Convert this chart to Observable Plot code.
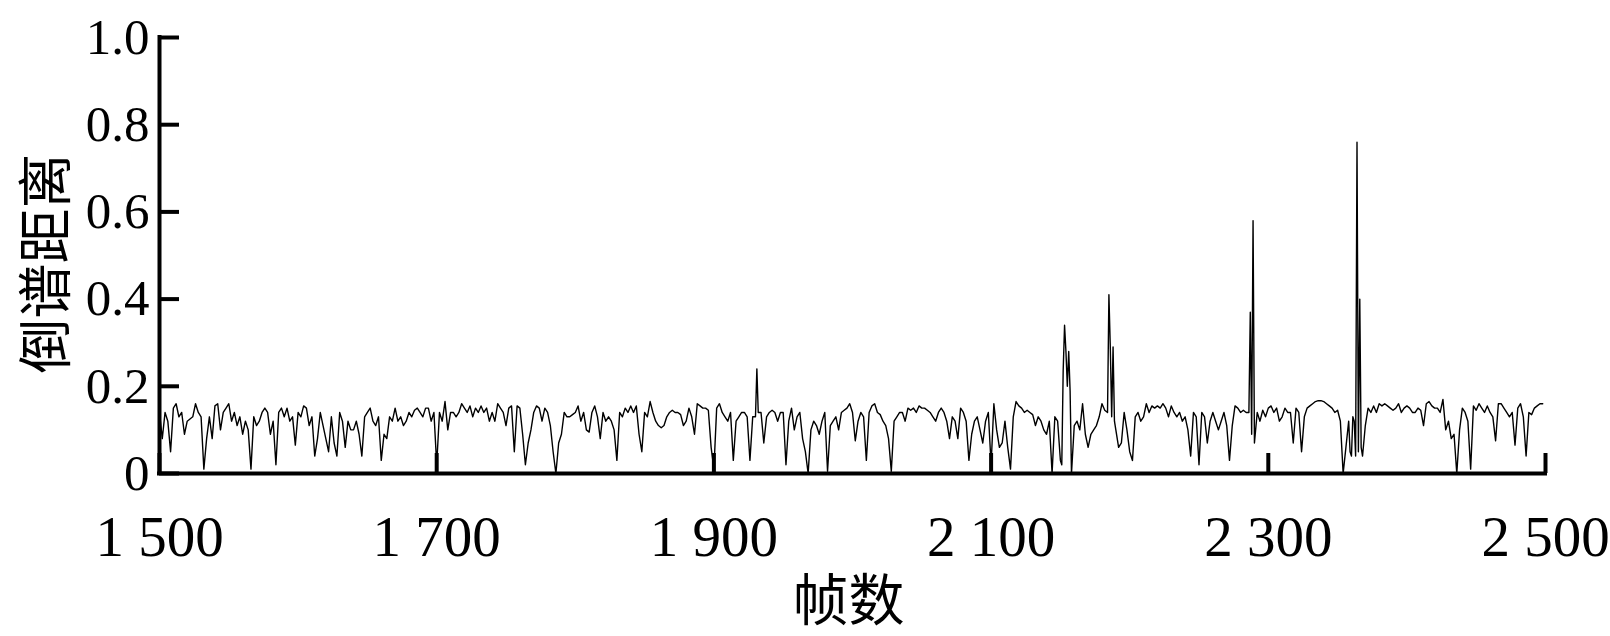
<!DOCTYPE html>
<html>
<head>
<meta charset="utf-8">
<script src="https://cdn.jsdelivr.net/npm/d3@7"></script>
<script src="https://cdn.jsdelivr.net/npm/@observablehq/plot@0.6"></script>
<style>
  html, body { margin: 0; padding: 0; background: #fff; }
  #chart svg { display: block; }
</style>
</head>
<body>
<div id="chart"></div>
<script>
// ---- data (cepstral distance per frame) ----
const xTicks = [1500, 1700, 1900, 2100, 2300, 2500];
const xTickLabels = ["1 500", "1 700", "1 900", "2 100", "2 300", "2 500"];
const yTicks = [0, 0.2, 0.4, 0.6, 0.8, 1.0];
const yTickLabels = ["0", "0.2", "0.4", "0.6", "0.8", "1.0"];
const xTitle = "帧数";
const yTitle = "倒谱距离";

const frameStep = 2;
const segStarts = [1500, 1600, 1700, 1800, 1900, 2000, 2100, 2200, 2300, 2400];

const seg1500 = [0.14,0.08,0.14,0.12,0.05,0.15,0.16,0.13,0.14,0.09,
  0.12,0.125,0.13,0.16,0.14,0.13,0.01,0.08,0.13,0.08,
  0.155,0.16,0.10,0.14,0.15,0.16,0.12,0.14,0.11,0.13,
  0.09,0.12,0.10,0.01,0.13,0.11,0.12,0.14,0.15,0.14,
  0.09,0.12,0.02,0.14,0.15,0.13,0.15,0.12,0.13,0.065];
const seg1600 = [0.14,0.13,0.155,0.15,0.11,0.13,0.04,0.08,0.14,0.11,
  0.08,0.05,0.13,0.07,0.04,0.14,0.12,0.06,0.12,0.10,
  0.10,0.12,0.09,0.04,0.13,0.14,0.15,0.12,0.11,0.13,
  0.03,0.09,0.08,0.13,0.12,0.15,0.12,0.13,0.11,0.12,
  0.14,0.13,0.145,0.15,0.14,0.13,0.15,0.15,0.12,0.14];
const seg1700 = [0.02,0.14,0.12,0.165,0.10,0.14,0.14,0.13,0.14,0.16,
  0.15,0.14,0.155,0.13,0.15,0.14,0.155,0.14,0.15,0.12,
  0.14,0.12,0.16,0.15,0.14,0.11,0.15,0.155,0.05,0.155,
  0.15,0.09,0.02,0.07,0.10,0.14,0.155,0.15,0.12,0.15,
  0.14,0.11,0.05,0.0,0.07,0.09,0.14,0.13,0.13,0.135];
const seg1800 = [0.14,0.155,0.12,0.14,0.10,0.095,0.14,0.155,0.13,0.08,
  0.14,0.12,0.13,0.12,0.10,0.03,0.14,0.13,0.15,0.14,
  0.155,0.14,0.155,0.09,0.05,0.14,0.13,0.165,0.14,0.12,
  0.11,0.105,0.11,0.13,0.14,0.145,0.14,0.14,0.135,0.11,
  0.12,0.15,0.13,0.09,0.16,0.155,0.15,0.15,0.145,0.06];
const seg1900 = [0.01,0.15,0.16,0.14,0.13,0.12,0.14,0.03,0.12,0.13,
  0.14,0.14,0.13,0.03,0.13,0.13,0.14,0.14,0.07,0.13,
  0.14,0.145,0.14,0.12,0.14,0.14,0.02,0.12,0.15,0.10,
  0.13,0.14,0.08,0.05,0.0,0.10,0.12,0.11,0.09,0.12,
  0.14,0.005,0.11,0.12,0.13,0.10,0.14,0.145,0.15,0.16];
const seg2000 = [0.14,0.075,0.12,0.14,0.13,0.03,0.14,0.155,0.16,0.14,
  0.135,0.12,0.11,0.08,0.005,0.12,0.13,0.14,0.14,0.12,
  0.15,0.145,0.15,0.14,0.155,0.15,0.15,0.145,0.14,0.13,
  0.12,0.14,0.15,0.14,0.12,0.08,0.13,0.12,0.08,0.15,
  0.14,0.12,0.03,0.09,0.12,0.13,0.10,0.07,0.12,0.14];
const seg2100 = [0.02,0.16,0.10,0.06,0.07,0.12,0.06,0.01,0.13,0.165,
  0.155,0.15,0.14,0.145,0.14,0.135,0.11,0.13,0.12,0.10,
  0.09,0.12,0.0,0.13,0.12,0.03,0.235,0.28,0.28,0.0,
  0.11,0.12,0.10,0.16,0.09,0.06,0.09,0.10,0.11,0.13,
  0.16,0.145,0.14,0.29,0.29,0.10,0.06,0.07,0.14,0.10];
const seg2200 = [0.05,0.03,0.13,0.14,0.12,0.13,0.16,0.14,0.155,0.15,
  0.155,0.15,0.16,0.15,0.13,0.155,0.14,0.13,0.14,0.12,
  0.13,0.10,0.04,0.14,0.13,0.02,0.14,0.13,0.07,0.12,
  0.14,0.12,0.10,0.12,0.14,0.11,0.03,0.11,0.155,0.15,
  0.14,0.145,0.14,0.14,0.09,0.07,0.14,0.12,0.145,0.13];
const seg2300 = [0.15,0.155,0.14,0.15,0.12,0.13,0.15,0.14,0.14,0.07,
  0.15,0.14,0.05,0.13,0.15,0.155,0.16,0.165,0.167,0.167,
  0.165,0.16,0.155,0.15,0.14,0.145,0.12,0.0,0.06,0.12,
  0.04,0.12,0.76,0.40,0.04,0.11,0.15,0.14,0.155,0.14,
  0.16,0.155,0.16,0.155,0.15,0.145,0.15,0.16,0.14,0.15];
const seg2400 = [0.155,0.15,0.14,0.14,0.15,0.145,0.11,0.16,0.165,0.155,
  0.15,0.15,0.14,0.17,0.10,0.12,0.08,0.09,0.0,0.10,
  0.15,0.14,0.12,0.01,0.155,0.145,0.16,0.15,0.14,0.155,
  0.14,0.13,0.075,0.16,0.16,0.15,0.14,0.13,0.14,0.065,
  0.15,0.16,0.13,0.04,0.14,0.135,0.15,0.155,0.16,0.16];
// extra single-frame readings around the spikes
const spikeFrames = [1931, 2151, 2153, 2155, 2157, 2185, 2187, 2189, 2287, 2289, 2359, 2361, 2363, 2365, 2367];
const spikeValues = [0.24, 0.02, 0.34, 0.20, 0.19, 0.41, 0.13, 0.12, 0.37, 0.58, 0.05, 0.13, 0.04, 0.05, 0.06];

const segments = [seg1500, seg1600, seg1700, seg1800, seg1900, seg2000, seg2100, seg2200, seg2300, seg2400];

const series = [];
segments.forEach((vals, k) => vals.forEach((v, i) => series.push({frame: segStarts[k] + i * frameStep, value: v})));
spikeFrames.forEach((f, i) => series.push({frame: f, value: spikeValues[i]}));
series.sort((a, b) => a.frame - b.frame);

const serif = '"Liberation Serif", "Times New Roman", "Noto Sans CJK SC", serif';
const cjk = '"Noto Sans CJK SC", "Liberation Serif", serif';

const chart = Plot.plot({
  width: 1610,
  height: 636,
  marginLeft: 159,
  marginRight: 65,
  marginTop: 37,
  marginBottom: 163,
  style: {fontFamily: serif, background: "white", color: "black"},
  x: {domain: [1500, 2500], label: null},
  y: {domain: [0, 1], label: null},
  marks: [
    Plot.line(series, {x: "frame", y: "value", stroke: "black", strokeWidth: 1.4}),
    Plot.ruleX([1500], {stroke: "black", strokeWidth: 4, strokeLinecap: "square"}),
    Plot.ruleY([0], {stroke: "black", strokeWidth: 4, strokeLinecap: "square"}),
    Plot.axisX({
      ticks: xTicks,
      tickFormat: d => xTickLabels[xTicks.indexOf(d)],
      tickSize: 20, tickPadding: 22, fontSize: 57, strokeWidth: 4, label: null
    }),
    Plot.axisY({
      ticks: yTicks,
      tickFormat: d => yTickLabels[yTicks.indexOf(d)],
      tickSize: 20, tickPadding: -10, fontSize: 51, strokeWidth: 4, label: null
    }),
    Plot.text([xTitle], {frameAnchor: "bottom", lineAnchor: "middle", dy: 129, dx: -4, fontSize: 56, fontFamily: cjk}),
    Plot.text([yTitle], {frameAnchor: "left", textAnchor: "middle", lineAnchor: "middle", dx: -112, dy: 8, rotate: -90, fontSize: 55, fontFamily: cjk})
  ]
});

// turn the axis ticks inward, as in the reference
d3.select(chart).selectAll('g[aria-label$="axis tick"] path').each(function() {
  const d = this.getAttribute("d");
  if (d) this.setAttribute("d", d.replace(/L(-?[\d.]+),(-?[\d.]+)/, (m, a, b) => `L${-a},${-b}`));
});

document.getElementById("chart").appendChild(chart);
</script>
</body>
</html>
